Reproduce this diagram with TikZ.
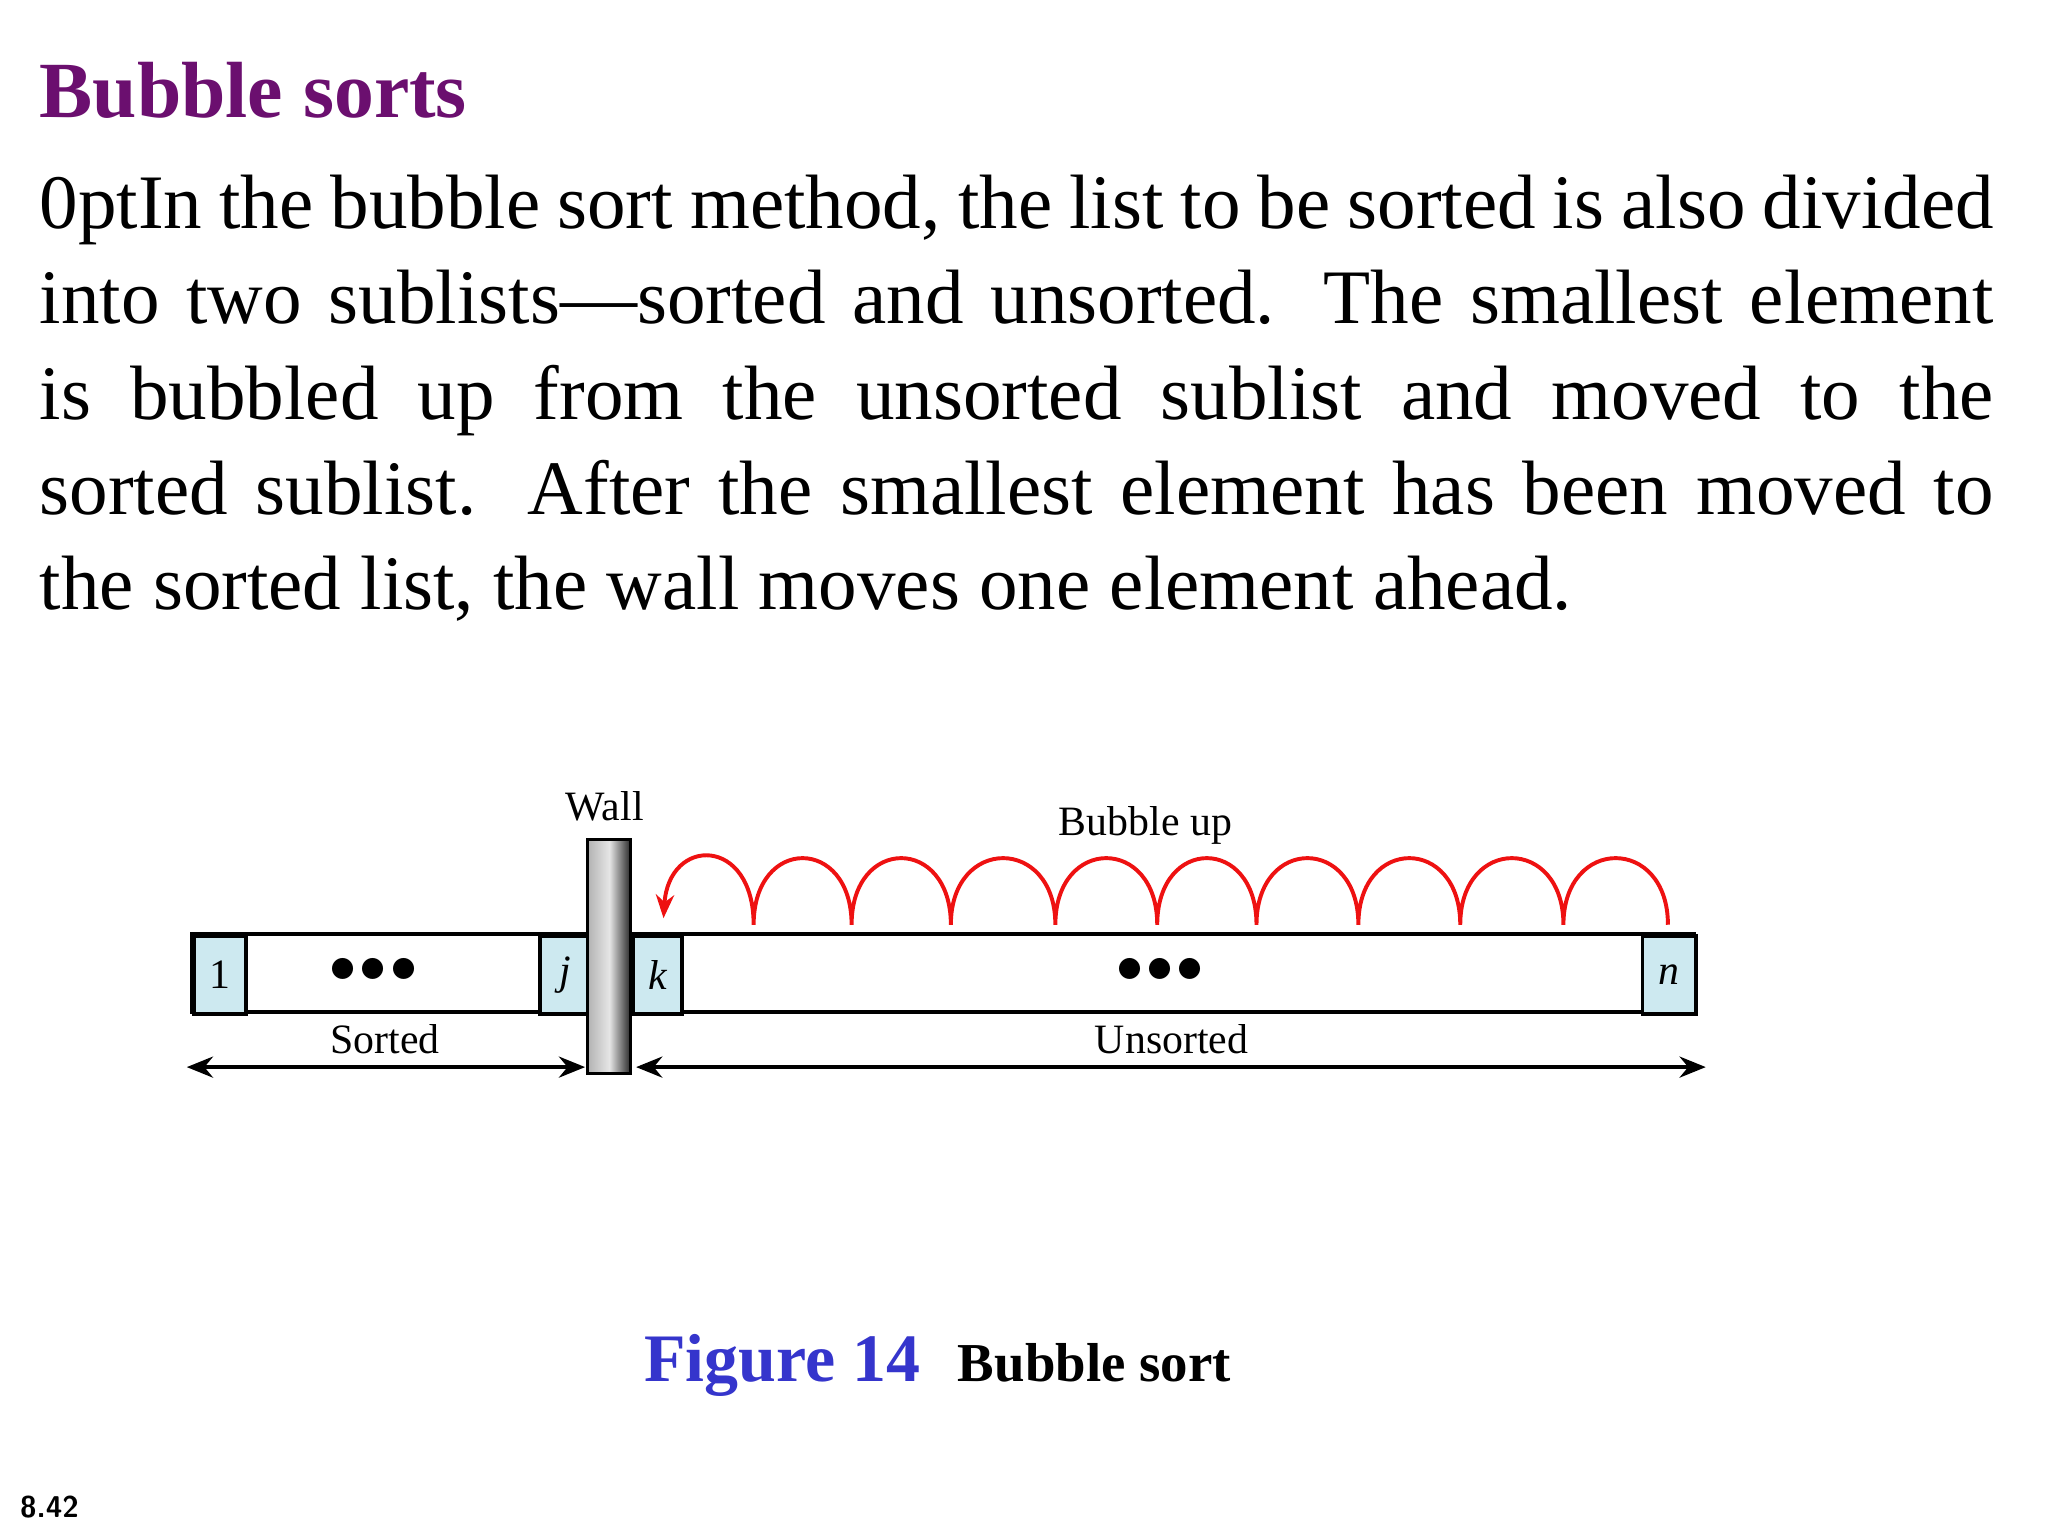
\documentclass[tikz,border=0pt]{standalone}
\usepackage{fontspec}
\setmainfont{Liberation Serif}
\usetikzlibrary{arrows.meta}
\definecolor{ttl}{HTML}{6B0F6F}
\definecolor{fig}{HTML}{3535CC}
\definecolor{cellb}{HTML}{CDE9F0}
\definecolor{redc}{HTML}{EE1111}
\tikzset{cell/.style={draw,line width=1.5pt,fill=cellb},
 lbl/.style={font=\fontsize{16}{19}\selectfont},
 dimarrow/.style={line width=1.8pt,{Stealth[length=10pt,width=8pt]}-{Stealth[length=10pt,width=8pt]}}}
\begin{document}
\begin{tikzpicture}[x=0.5pt,y=-0.5pt]
\useasboundingbox (0,0) rectangle (1568,1176);
\fill[white] (0,0) rectangle (1568,1176);
\node[anchor=base west,inner sep=0,text=ttl,font=\fontsize{30.5}{34}\selectfont\bfseries] (title) at (30,90) {Bubble sorts};
\node[anchor=base west,inner sep=0,text width=748pt,align=justify,font=\fontsize{29.5}{36.5}\selectfont\hyphenpenalty=10000] (para) at (30,175)
{In the bubble sort method, the list to be sorted is also divided\linebreak into two sublists---sorted and unsorted. The smallest element\linebreak is bubbled up from the unsorted sublist and moved to the\linebreak sorted sublist. After the smallest element has been moved to\linebreak the sorted list, the wall moves one element ahead.};
% list
\draw[line width=1.5pt] (147,715) rectangle (1297,775);
\node[cell,minimum width=20pt,minimum height=30pt,inner sep=0,anchor=north west,lbl] (c1) at (147,715) {1};
\node[cell,minimum width=19pt,minimum height=30pt,inner sep=0,anchor=north west,lbl] (cj) at (412,715) {\textit{j}};
\node[cell,minimum width=19pt,minimum height=30pt,inner sep=0,anchor=north west,lbl] (ck) at (483,715) {\textit{k}};
\node[cell,minimum width=20.5pt,minimum height=30pt,inner sep=0,anchor=north west,lbl] (cn) at (1256,715) {\textit{n}};
\node[lbl] (d1) at (286,743) {\fontsize{22}{22}\selectfont$\bullet\!\bullet\!\bullet$};
\node[lbl] (d2) at (888,743) {\fontsize{22}{22}\selectfont$\bullet\!\bullet\!\bullet$};
% wall
\shade[left color=gray!60,right color=black!85,middle color=gray!20] (450,643) rectangle (483,822);
\draw[line width=1.2pt] (450,643) rectangle (483,822);
\coordinate (wallL) at (448,817);
\coordinate (wallR) at (487,817);
\node[lbl] (wall) at (463,617) {Wall};
\node[lbl] (bub) at (877,632) {Bubble up};
% arcs
\draw[redc,line width=1.5pt,-{Stealth[length=9pt,width=7pt]}] (1277,708)
 .. controls (1277,640) and (1197,640) .. (1197,708)
 .. controls (1197,640) and (1118,640) .. (1118,708)
 .. controls (1118,640) and (1040,640) .. (1040,708)
 .. controls (1040,640) and (962,640) .. (962,708)
 .. controls (962,640) and (886,640) .. (886,708)
 .. controls (886,640) and (808,640) .. (808,708)
 .. controls (808,640) and (728,640) .. (728,708)
 .. controls (728,640) and (652,640) .. (652,708)
 .. controls (652,640) and (577,640) .. (577,708)
 .. controls (577,640) and (512,640) .. (508,703);
% dims
\coordinate (sl) at (143,817);
\coordinate (ur) at (1306,817);
\draw[dimarrow] (sl) -- (wallL);
\draw[dimarrow] (wallR) -- (ur);
\node[lbl] (sorted) at (295,796) {Sorted};
\node[lbl] (unsorted) at (897,796) {Unsorted};
% caption
\node[anchor=base west,inner sep=0,text=fig,font=\fontsize{26}{30}\selectfont\bfseries] (figl) at (493,1058) {Figure 14};
\node[anchor=base west,inner sep=0,font=\fontsize{21}{24}\selectfont\bfseries] (figt) at (733,1058) {Bubble sort};
\node[anchor=base west,inner sep=0,font=\fontsize{11.5}{13}\selectfont\sffamily\bfseries] (pg) at (15,1162) {8.42};
\end{tikzpicture}
\end{document}
